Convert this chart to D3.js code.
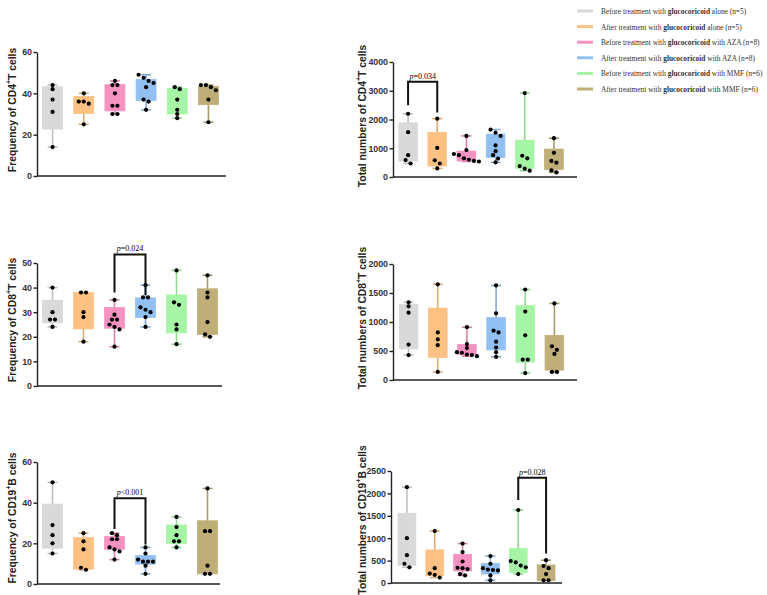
<!DOCTYPE html>
<html><head><meta charset="utf-8">
<script src="https://cdn.jsdelivr.net/npm/d3@7"></script>
<style>body{margin:0;background:#fff}svg{display:block}</style>
</head><body>
<svg id="c" width="767" height="595"></svg>
<script>
// ---------- data ----------
const groups = ["gcBefore","gcAfter","azaBefore","azaAfter","mmfBefore","mmfAfter"];
const groupColors = ["#d9d9d9","#fdc283","#f592c1","#93c0f2","#a6f5a6","#bfae78"];
const legendPre = ["Before treatment with ","After treatment with ","Before treatment with ","After treatment with ","Before treatment with ","After treatment with "];
const legendDrug = ["glucocoricoid","glucocoricoid","glucocoricoid","glucocoricoid","glucocoricoid","glucocoricoid"];
const legendPost = [" alone (n=5)"," alone (n=5)"," with AZA (n=8)"," with AZA (n=8)"," with MMF (n=6)"," with MMF (n=6)"];

const cd4FreqPts = [[44,42,37,31,14],[40,36,36,35,25],[46,44,44,40,34,34,30,30],[49,47.5,46,45,43,37,36,32],[43,42,37,32,30,28],[44,44,43,41.5,37,26]];
const cd4FreqQ1 = [22.7,30.3,31.5,36.6,30,34.5];
const cd4FreqQ3 = [43.2,38.5,44.2,46.8,42.3,43.4];
const cd4FreqTicks = [0,20,40,60];

const cd4TotPts = [[2200,1560,760,590,470],[2030,1010,580,470,300],[1430,940,800,760,650,600,560,540],[1650,1540,1430,1100,900,760,640,510],[2920,740,650,380,290,220],[1350,840,560,500,230,160]];
const cd4TotQ1 = [555,381,555,682,300,266];
const cd4TotQ3 = [1884,1549,902,1491,1283,971];
const cd4TotTicks = [0,1000,2000,3000,4000];

const cd8FreqPts = [[40,30,27,27,24],[38,38,30,28,18],[35,29,27,27,25,24,23,16],[41,36,36,32,31,30,28,24],[47,34,33,25,23,17],[45,38,36,26,21,20]];
const cd8FreqQ1 = [25.7,23.2,23.5,27.8,21.6,21];
const cd8FreqQ3 = [34.9,38,31.9,35.8,37,39.5];
const cd8FreqTicks = [0,10,20,30,40,50];

const cd8TotPts = [[1340,1270,1160,610,430],[1650,820,700,600,140],[910,620,550,480,470,440,430,410],[1630,1150,850,820,660,560,480,400],[1560,1180,770,350,350,120],[1320,580,520,450,140,140]];
const cd8TotQ1 = [535,390,439,519,308,171];
const cd8TotQ3 = [1305,1240,610,1077,1282,770];
const cd8TotTicks = [0,500,1000,1500,2000];

const cd19FreqPts = [[50,29,24,20,15],[25,21,17,8,7],[25,24,22,22,18,17,16,12],[18,15,12,11,11,11,9,5],[33,28,24,21,21,18],[47,26,26,9,5,5]];
const cd19FreqQ1 = [17.6,7.3,17.1,9.8,20,5];
const cd19FreqQ3 = [39.3,22.8,23.3,14,29,31.1];
const cd19FreqTicks = [0,20,40,60];

const cd19TotPts = [[2140,1000,620,430,350],[1160,330,210,180,120],[880,690,480,340,330,310,200,170],[600,430,330,300,290,280,170,60],[1630,490,460,390,350,200],[510,380,330,200,60,60]];
const cd19TotQ1 = [395,164,268,201,239,52];
const cd19TotQ3 = [1559,738,641,440,776,403];
const cd19TotTicks = [0,500,1000,1500,2000,2500];

// significance brackets: [from group, to group, p-label, top value, left-leg end, right-leg end]
const cd4TotSig = [0,1,"=0.034",3315,2500,2240];
const cd8FreqSig = [2,3,"=0.024",53.5,38,37];
const cd19FreqSig = [2,3,"<0.001",42.2,27,19.4];
const cd19TotSig = [4,5,"=0.028",2350,1850,660];

// ---------- layout ----------
const panels = [
  {pts:cd4FreqPts,q1:cd4FreqQ1,q3:cd4FreqQ3,ticks:cd4FreqTicks,max:60,ax:37,xr:[37,224],xe:226,yr:[176,52],lab:["Frequency of CD4","+","T cells"],lx:12,ly:110,sig:null},
  {pts:cd4TotPts,q1:cd4TotQ1,q3:cd4TotQ3,ticks:cd4TotTicks,max:4000,ax:393,xr:[393.5,568.5],xe:577,yr:[177,62],lab:["Total numbers of CD4","+","T cells"],lx:362,ly:116,sig:cd4TotSig},
  {pts:cd8FreqPts,q1:cd8FreqQ1,q3:cd8FreqQ3,ticks:cd8FreqTicks,max:50,ax:37,xr:[37,223],xe:222,yr:[386,263],lab:["Frequency of CD8","+","T cells"],lx:12,ly:320,sig:cd8FreqSig},
  {pts:cd8TotPts,q1:cd8TotQ1,q3:cd8TotQ3,ticks:cd8TotTicks,max:2000,ax:393,xr:[394,569],xe:577,yr:[380,264],lab:["Total numbers of CD8","+","T cells"],lx:362,ly:318,sig:null},
  {pts:cd19FreqPts,q1:cd19FreqQ1,q3:cd19FreqQ3,ticks:cd19FreqTicks,max:60,ax:37,xr:[37,223],xe:220,yr:[584,462],lab:["Frequency of CD19","+","B cells"],lx:12,ly:518,sig:cd19FreqSig},
  {pts:cd19TotPts,q1:cd19TotQ1,q3:cd19TotQ3,ticks:cd19TotTicks,max:2500,ax:391,xr:[393,560],xe:562,yr:[583,471],lab:["Total numbers of CD19","+","B cells"],lx:362,ly:520,sig:cd19TotSig}
];

const svg = d3.select("#c");
const SANS = "'Liberation Sans', Arial, sans-serif";
const SERIF = "'Liberation Serif','Times New Roman', serif";

panels.forEach(p => {
  const g = svg.append("g");
  const x = d3.scaleBand().domain(groups).range(p.xr).paddingInner(0.36).paddingOuter(0.18);
  const y = d3.scaleLinear().domain([0,p.max]).range(p.yr);
  const bw = x.bandwidth();
  const cx = k => x(k) + bw/2;

  groups.forEach((k,i) => {
    const vals = p.pts[i];
    const col = groupColors[i];
    const wcol = d3.color(col).darker(0.35).formatHex();
    const mn = d3.min(vals), mx = d3.max(vals);
    g.append("line").attr("x1",cx(k)).attr("x2",cx(k)).attr("y1",y(mn)).attr("y2",y(mx))
      .attr("stroke",wcol).attr("stroke-width",1.6);
    [mn,mx].forEach(v => g.append("line").attr("x1",cx(k)-5).attr("x2",cx(k)+5).attr("y1",y(v)).attr("y2",y(v))
      .attr("stroke",wcol).attr("stroke-width",1.6));
    g.append("rect").attr("x",x(k)).attr("width",bw).attr("y",y(p.q3[i])).attr("height",y(p.q1[i])-y(p.q3[i]))
      .attr("fill",col).attr("stroke",col).attr("stroke-width",0.8);
    const sorted = vals.slice().sort((a,b)=>b-a).map(v=>({v,py:y(v)}));
    const clusters = [];
    sorted.forEach(d => {
      const last = clusters[clusters.length-1];
      if (last && Math.abs(last[last.length-1].py - d.py) < 3.6) last.push(d); else clusters.push([d]);
    });
    clusters.forEach(cl => {
      const n = cl.length;
      cl.forEach((d,j) => {
        g.append("circle").attr("cx",cx(k)+(j-(n-1)/2)*5).attr("cy",d.py).attr("r",2.1).attr("fill","#000");
      });
    });
  });

  const yAxis = d3.axisLeft(y).tickValues(p.ticks).tickFormat(d3.format("d")).tickSize(3.5).tickSizeOuter(0).tickPadding(1.5);
  const ag = g.append("g").attr("transform",`translate(${p.ax},0)`).call(yAxis);
  ag.select(".domain").attr("stroke","#222").attr("stroke-width",1.4);
  ag.selectAll(".tick line").attr("stroke","#222").attr("stroke-width",1.4);
  ag.selectAll(".tick text").attr("font-family",SANS).attr("font-weight","bold").attr("font-size",8.8).attr("fill","#333");
  g.append("line").attr("x1",p.ax).attr("x2",p.xe).attr("y1",y(0)).attr("y2",y(0)).attr("stroke","#222").attr("stroke-width",1.4);

  const t = g.append("text").attr("transform",`translate(${p.lx},${p.ly}) rotate(-90)`)
    .attr("text-anchor","middle").attr("dominant-baseline","central")
    .attr("font-family",SANS).attr("font-weight","bold").attr("font-size",10.3).attr("fill","#222");
  t.append("tspan").text(p.lab[0]);
  t.append("tspan").attr("font-size",7).attr("dy",-4).text(p.lab[1]);
  t.append("tspan").attr("dy",4).text(p.lab[2]);

  if (p.sig) {
    const [a,b,lab,top,le,re] = p.sig;
    const xa = cx(groups[a]), xb = cx(groups[b]);
    g.append("path").attr("d",`M${xa},${y(le)}V${y(top)}H${xb}V${y(re)}`)
      .attr("fill","none").attr("stroke","#111").attr("stroke-width",2);
    const pt = g.append("text").attr("x",(xa+xb)/2).attr("y",y(top)-3).attr("text-anchor","middle")
      .attr("font-family",SERIF).attr("font-size",8).attr("fill","#000");
    pt.append("tspan").attr("font-style","italic").text("p");
    pt.append("tspan").text(lab);
  }
});

const lg = svg.append("g");
groups.forEach((k,i) => {
  const yy = 11 + i*15.6;
  lg.append("line").attr("x1",577).attr("x2",593).attr("y1",yy).attr("y2",yy)
    .attr("stroke",groupColors[i]).attr("stroke-width",3);
  const tx = lg.append("text").attr("x",601).attr("y",yy).attr("dominant-baseline","central")
    .attr("font-family",SERIF).attr("font-size",7.4).attr("fill","#333");
  tx.append("tspan").text(legendPre[i]);
  tx.append("tspan").attr("font-weight","bold").text(legendDrug[i]);
  tx.append("tspan").text(legendPost[i]);
});
</script>
</body></html>
